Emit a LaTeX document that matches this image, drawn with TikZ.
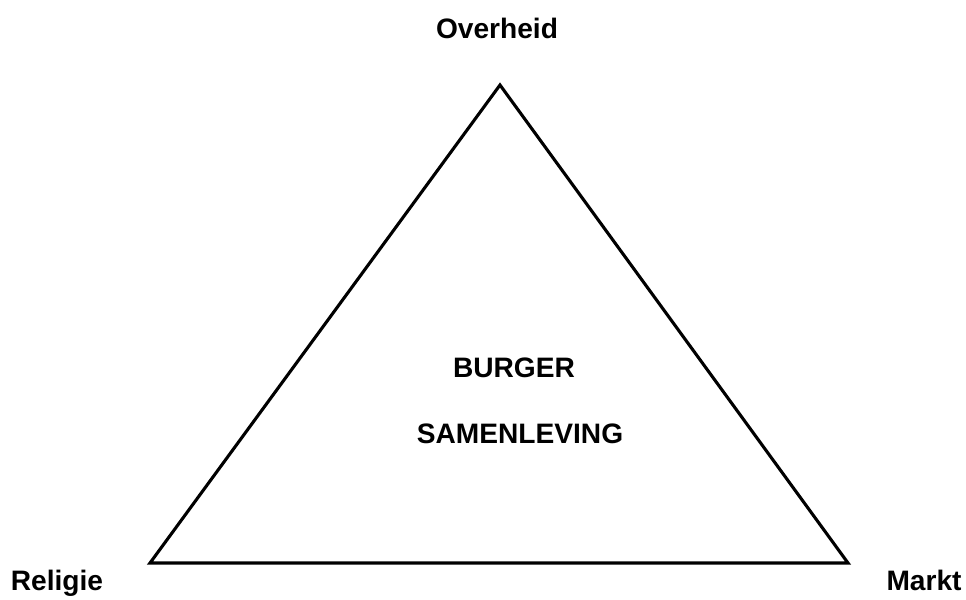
\documentclass[tikz,border=0pt]{standalone}
\usepackage{fontspec}
\setmainfont{Liberation Sans}
\usepackage{tikz}

\begin{document}
\begin{tikzpicture}[x=0.025cm, y=-0.025cm, line width=2.2pt]
      \useasboundingbox (0,0) rectangle (966,599);
      \tikzset{lbl/.style={font=\fontsize{20}{24}\selectfont\bfseries, inner sep=0pt, anchor=base}}

      \coordinate (top) at (500,85);
      \coordinate (left) at (150,563);
      \coordinate (right) at (848,563);

      \draw[line join=miter] (top) -- (left) -- (right) -- cycle;

      \node[lbl] (overheid) at (497,38) {Overheid};
      \node[lbl] (religie) at (57,590) {Religie};
      \node[lbl] (markt) at (924,590) {Markt};

      \node[lbl] (burger) at (514,377) {BURGER};
      \node[lbl] (samenleving) at (520,443) {SAMENLEVING};
    \end{tikzpicture}
\end{document}
